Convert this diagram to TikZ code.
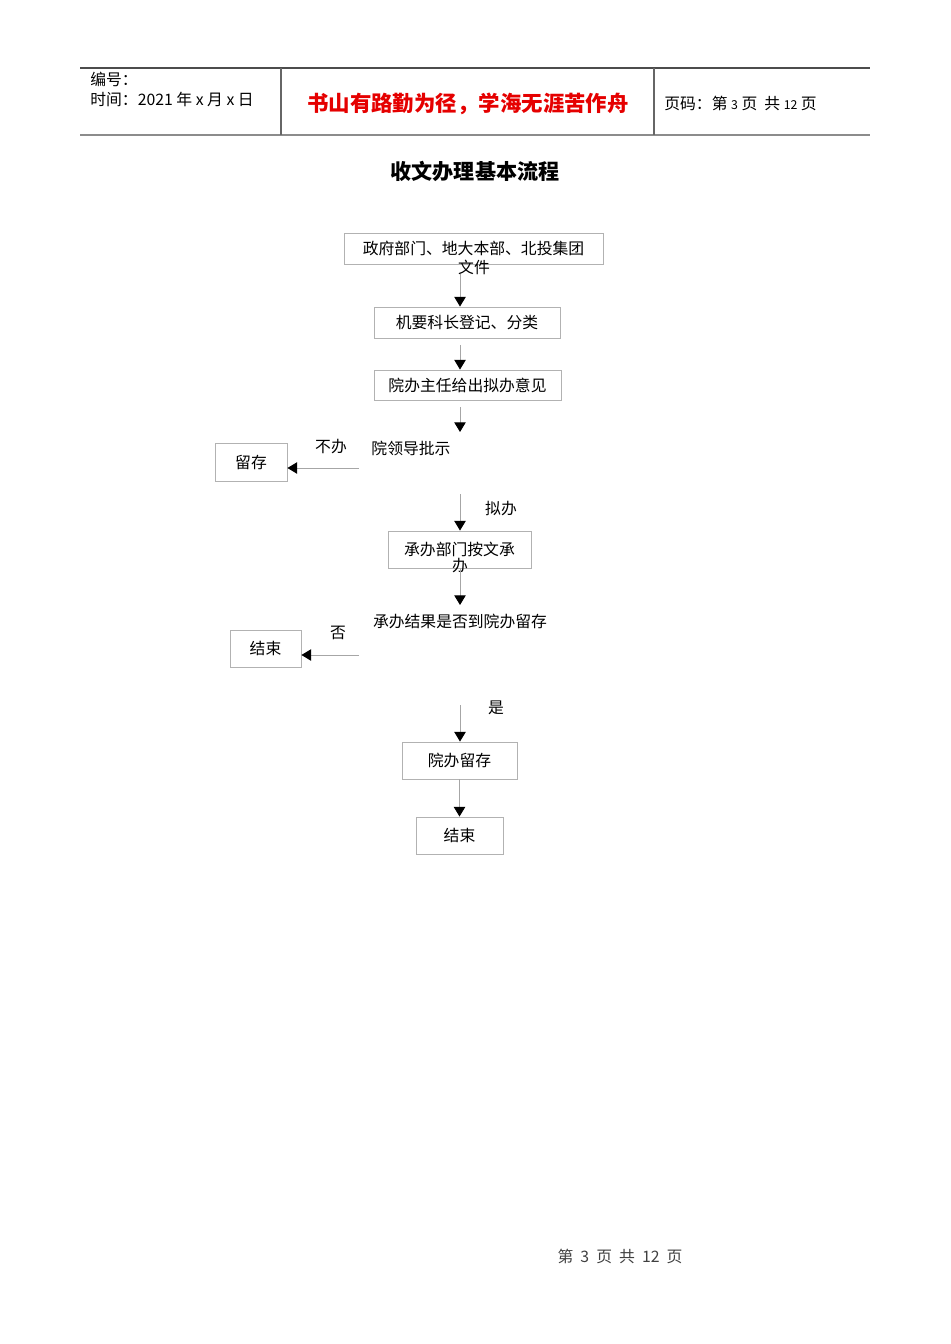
\documentclass[tikz,border=0pt]{standalone}
\usepackage{fontspec}
\newfontfamily\cjk{Noto Sans CJK SC}
\usetikzlibrary{arrows.meta,positioning}
\tikzstyle{stepbox}=[draw=black!30,line width=0.5pt,inner sep=0pt,font=\cjk\fontsize{9}{11}\selectfont]
\tikzstyle{plain}=[inner sep=0pt,font=\cjk\fontsize{9}{11}\selectfont]
\tikzstyle{edge} = [draw=black!35,line width=0.5pt,-{Triangle[black,length=5.5pt,width=6.5pt]}]
\tikzstyle{head} = [inner sep=0pt,anchor=west,font=\cjk\fontsize{9}{11}\selectfont]

\begin{document}
\begin{tikzpicture}[x=0.02cm,y=-0.02cm]
  \useasboundingbox (0,0) rectangle (950,1344);
  \def\u{0.02cm};

  % header
  \draw[black!70,line width=0.6pt] (80,68) -- (870,68);
  \draw[black!45,line width=1.2pt] (80,135) -- (870,135);
  \draw[black!60,line width=0.6pt] (281,68) -- (281,135);
  \draw[black!60,line width=0.6pt] (654,68) -- (654,135);
  \node[head] (num) at (90,79) {编号：};
  \node[head] (date) at (90,99) {时间：2021 年 x 月 x 日};
  \node[inner sep=0pt,text=red!90!black,font=\cjk\bfseries\fontsize{12.2}{14}\selectfont] (motto) at (468,104) {书山有路勤为径，学海无涯苦作舟};
  \node[head] (page) at (664,103) {页码：第 {\fontsize{7}{8}\selectfont 3} 页 \ 共 {\fontsize{7}{8}\selectfont 12} 页};

  \node[inner sep=0pt,font=\cjk\bfseries\fontsize{12}{14}\selectfont] (title) at (475,171) {收文办理基本流程};

  % boxes
  \foreach \x/\y/\w/\h/\name/\label in {473.5/248.5/259/31/gov/政府部门、地大本部、北投集团,
      467/322.5/186/31/reg/机要科长登记、分类, 467.5/385/187/30/opinion/院办主任给出拟办意见,
      251/462/72/38/keep/留存, 459.5/549.5/143/37/dept/承办部门按文承,
      265.5/648.5/71/37/endA/结束, 459.5/760.5/115/37/archive/院办留存, 459.5/835.5/87/37/endB/结束}
          \node[stepbox,minimum width=\w*\u,minimum height=\h*\u] (\name) at (\x,\y) {\label};

  % loose texts
  \foreach \x/\y/\name/\label in {474/267/govtail/文件, 411/448/lead/院领导批示, 331/447/no1/不办,
      501/509/yes1/拟办, 460/566/depttail/办, 460/621/ask/承办结果是否到院办留存, 338/633/no2/否, 496/708/yes2/是}
          \node[plain] (\name) at (\x,\y) {\label};

  % free ends
  \coordinate (s1) at (460,274);
  \coordinate (s2) at (460,345);
  \coordinate (s3) at (460,407);
  \coordinate (e3) at (460,432);
  \coordinate (s4) at (359,468);
  \coordinate (s5) at (460,494);
  \coordinate (e6) at (460,605);
  \coordinate (s7) at (359,655);
  \coordinate (s8) at (460,705);

  \draw[edge] (s1) -- (s1 |- reg.north);
  \draw[edge] (s2) -- (s2 |- opinion.north);
  \draw[edge] (s3) -- (e3);
  \draw[edge] (s4) -- (s4 -| keep.east);
  \draw[edge] (s5) -- (s5 |- dept.north);
  \draw[edge] (dept.south -| e6) -- (e6);
  \draw[edge] (s7) -- (s7 -| endA.east);
  \draw[edge] (s8) -- (s8 |- archive.north);
  \draw[edge] (archive.south) -- (endB.north);

  % footer
  \node[plain,text=black!75] (foot) at (620,1256) {第 \ 3 \ 页 \ 共 \ 12 \ 页};
\end{tikzpicture}
\end{document}
